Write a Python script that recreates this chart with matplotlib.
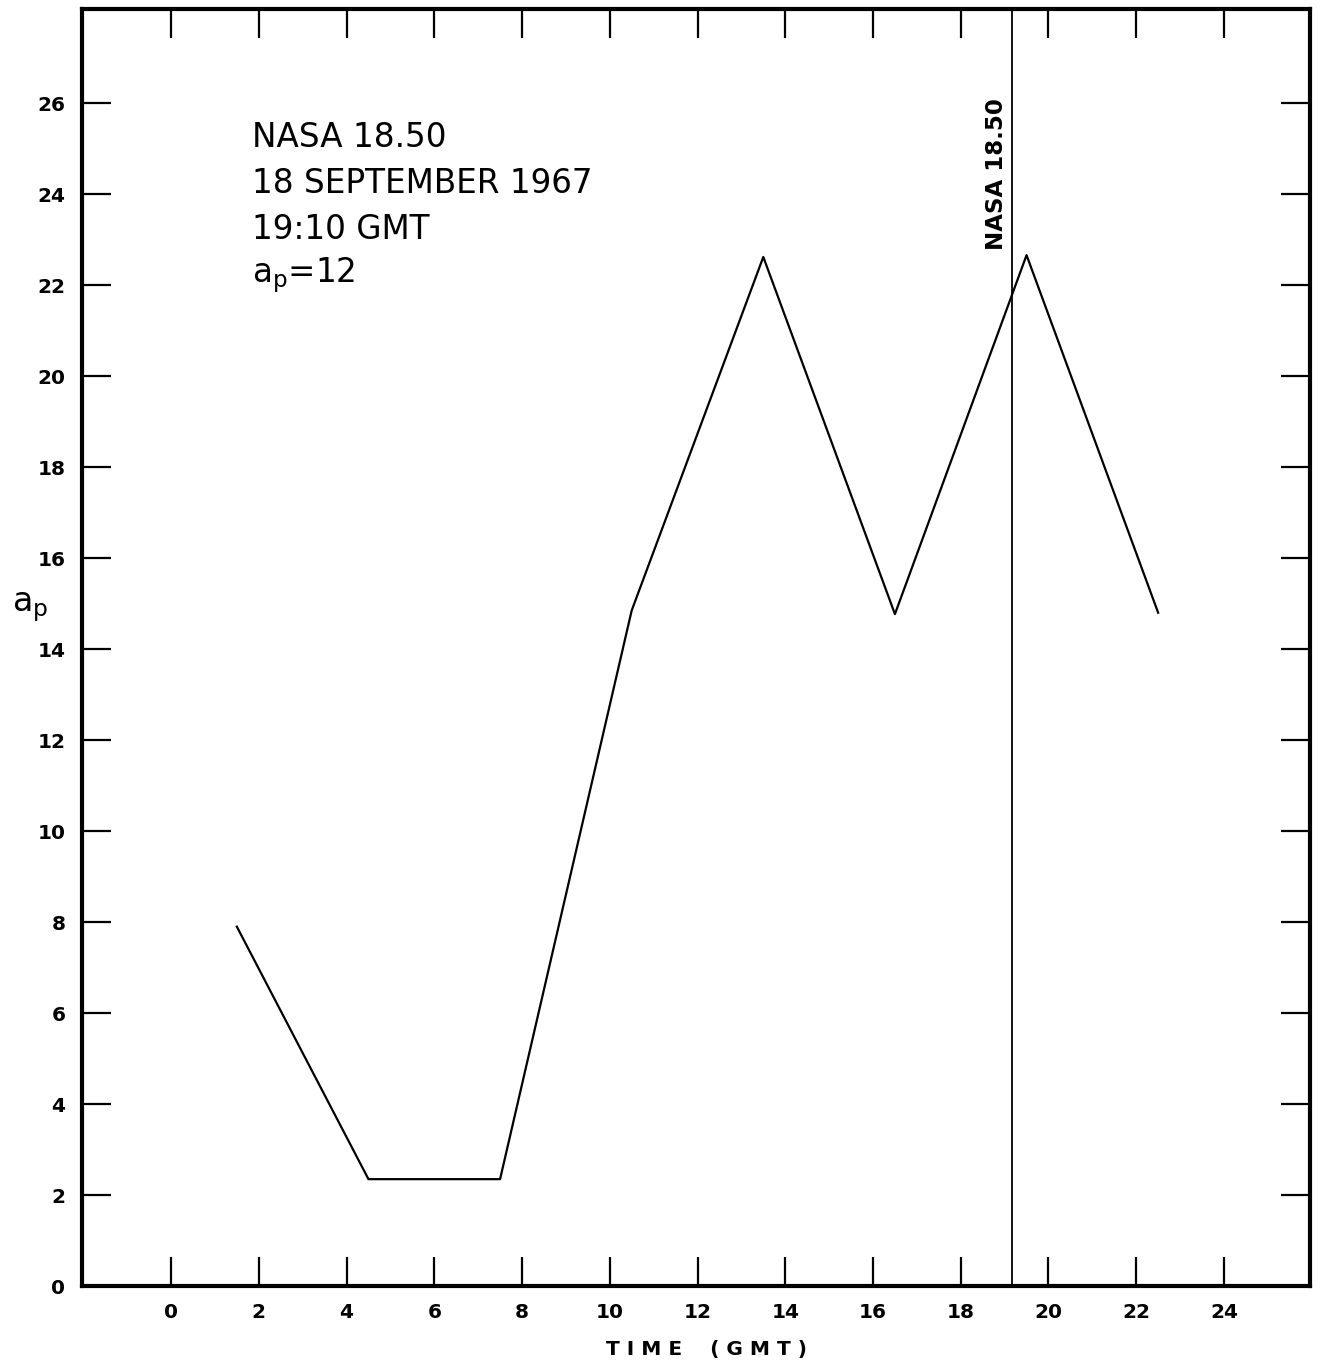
import matplotlib.pyplot as plt

# a_p index vs time, 18 Sept 1967
hours = [1.5, 4.5, 7.5, 10.5, 13.5, 16.5, 19.5, 22.5]
ap = [7.9, 2.35, 2.35, 14.85, 22.62, 14.77, 22.66, 14.8]
launch_time = 19.17  # 19:10 GMT
xticks = list(range(0, 25, 2))
yticks = list(range(0, 27, 2))
info_lines = ["NASA 18.50", "18 SEPTEMBER 1967", "19:10 GMT", r"$\mathregular{a_p}$=12"]

fig = plt.figure(figsize=(13.2, 13.67), dpi=100)
ax = fig.add_axes([0.0621, 0.0592, 0.9924 - 0.0621, 0.9934 - 0.0592])

ax.plot(hours, ap, color='black', lw=1.6)
ax.axvline(launch_time, color='black', lw=1.3)
ax.text(launch_time - 0.1, 22.77, "NASA 18.50", rotation=90, ha='right', va='bottom',
        fontsize=16.5, fontweight='bold')

for i, s in enumerate(info_lines):
    ax.text(1.85, 25.25 - i * 1.01, s, fontsize=23.5, ha='left', va='center')

ax.set_xlim(-2.03, 25.96)
ax.set_ylim(0, 28.07)
ax.set_xticks(xticks)
ax.set_yticks(yticks)
ax.tick_params(direction='in', length=21, width=1.6, top=True, right=True,
               labelsize=14.5, pad=12)
for lab in ax.get_xticklabels() + ax.get_yticklabels():
    lab.set_fontweight('bold')
ax.set_yticklabels([str(v) for v in yticks])
# no tick mark at 0 on the y axis sides
ax.yaxis.get_major_ticks()[0].tick1line.set_visible(False)
ax.yaxis.get_major_ticks()[0].tick2line.set_visible(False)
for sp in ax.spines.values():
    sp.set_linewidth(3)

fig.text(0.535, 0.013, "T I M E    ( G M T )", ha='center', va='center',
         fontsize=14.5, fontweight='bold')
fig.text(0.023, 0.556, r"$\mathregular{a_p}$", ha='center', va='center', fontsize=24)

fig.savefig("out.png", dpi=100)
